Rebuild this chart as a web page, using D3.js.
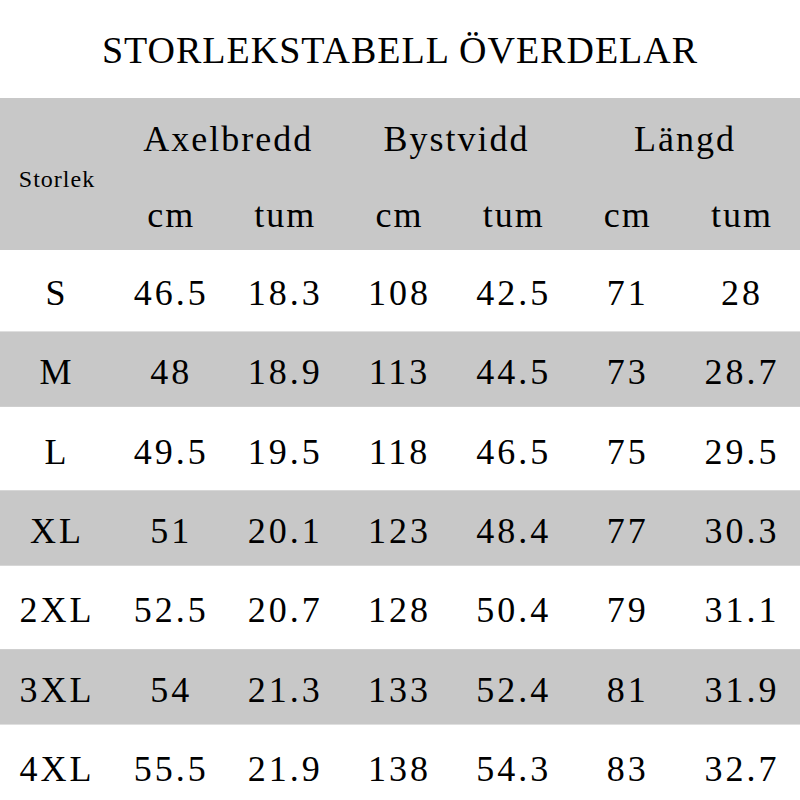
<!DOCTYPE html>
<html><head><meta charset="utf-8">
<script src="https://cdn.jsdelivr.net/npm/d3@7"></script>
<style>body{margin:0;background:#fff}</style></head>
<body><svg id="c" width="800" height="800"></svg>
<script>
const title = "STORLEKSTABELL ÖVERDELAR";
const sizes = ["S","M","L","XL","2XL","3XL","4XL"];
const axelCm = ["46.5","48","49.5","51","52.5","54","55.5"];
const axelIn = ["18.3","18.9","19.5","20.1","20.7","21.3","21.9"];
const bystCm = ["108","113","118","123","128","133","138"];
const bystIn = ["42.5","44.5","46.5","48.4","50.4","52.4","54.3"];
const langCm = ["71","73","75","77","79","81","83"];
const langIn = ["28","28.7","29.5","30.3","31.1","31.9","32.7"];
const groups = ["Axelbredd","Bystvidd","Längd"];
const units = ["cm","tum"];
const cols = [sizes, axelCm, axelIn, bystCm, bystIn, langCm, langIn];

const svg = d3.select("#c");
const font = "'Liberation Serif','DejaVu Serif',serif";
const gray = "#c8c8c8";
const x = d3.scalePoint().domain(d3.range(7)).range([57,742]);
const y = d3.scaleBand().domain(d3.range(7)).range([250,806]);

svg.append("text").attr("x",400).attr("y",63).attr("text-anchor","middle")
  .attr("font-family",font).attr("font-size",38).attr("letter-spacing",1).text(title);
svg.append("rect").attr("x",0).attr("y",98).attr("width",800).attr("height",152).attr("fill",gray);
svg.selectAll("rect.row").data(d3.range(7)).join("rect").attr("class","row")
  .attr("x",0).attr("y",d=>y(d)+2).attr("width",800).attr("height",y.bandwidth()-4)
  .attr("fill",d=>d%2?gray:"#fff");

svg.append("text").attr("x",57).attr("y",187).attr("text-anchor","middle")
  .attr("font-family",font).attr("font-size",24).attr("letter-spacing",1).text("Storlek");
groups.forEach((g,i)=>{
  svg.append("text").attr("x",(x(1+2*i)+x(2+2*i))/2).attr("y",151).attr("text-anchor","middle")
    .attr("font-family",font).attr("font-size",36).attr("letter-spacing",2).text(g);
  units.forEach((u,j)=>svg.append("text").attr("x",x(1+2*i+j)).attr("y",227).attr("text-anchor","middle")
    .attr("font-family",font).attr("font-size",36).attr("letter-spacing",2).text(u));
});
cols.forEach((col,ci)=>{
  svg.selectAll(null).data(col).join("text")
    .attr("x",x(ci)).attr("y",(d,ri)=>y(ri)+y.bandwidth()/2+15)
    .attr("text-anchor","middle").attr("font-family",font).attr("font-size",36)
    .attr("letter-spacing",3).text(d=>d);
});
</script></body></html>
